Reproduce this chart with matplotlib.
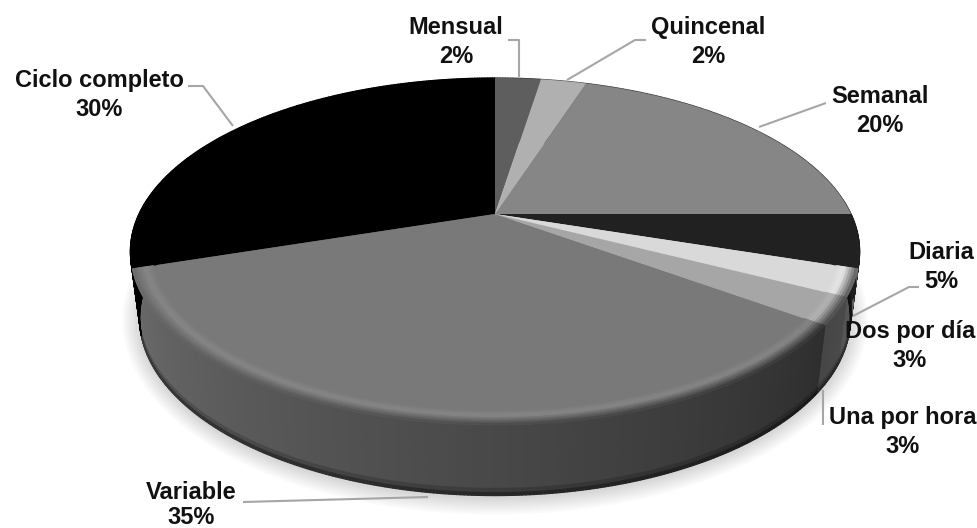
import numpy as np
import matplotlib
matplotlib.use("Agg")
import matplotlib.pyplot as plt
from matplotlib.collections import PolyCollection
from matplotlib.patches import Polygon
from matplotlib.transforms import Transform

plt.rcParams['font.family'] = ['Liberation Sans', 'DejaVu Sans']

categories = ["Mensual", "Quincenal", "Semanal", "Diaria", "Dos por día", "Una por hora", "Variable", "Ciclo completo"]
values = [2.5, 2.5, 20, 5, 2.5, 2.5, 35, 30]
pct_labels = ["2%", "2%", "20%", "5%", "3%", "3%", "35%", "30%"]

top_colors = ["#5e5e5e", "#b0b0b0", "#868686", "#212121", "#d9d9d9", "#a6a6a6", "#797979", "#000000"]
# side colour at the start and the end of each slice (clockwise)
side_start = [60, 90, 70, 26, 92, 74, 46, 0]
side_end = [60, 90, 70, 30, 84, 70, 107, 0]
bevelled = [False, False, False, False, True, True, True, False]

label_pos = [(456, 42), (708, 42), (880, 111), (941, 267), (910, 346), (903, 432), (191, 505), (99, 95)]
label_spacing = [1.34, 1.34, 1.34, 1.34, 1.34, 1.34, 1.15, 1.34]
leaders = [
    [(508, 40), (519, 40), (519, 77)],
    [(646, 40), (635, 40), (567, 80)],
    [(826, 103), (759, 127)],
    [(919, 287), (909, 287), (853, 316)],
    [],
    [(823, 390), (823, 425)],
    [(243, 502), (428, 497)],
    [(188, 86), (203, 86), (233, 126)],
]

K = 0.216


def project(u, v, x0=495, y0=214, rx=356, ry=165.4):
    w = 1 + K * v
    return x0 + rx * u / w, y0 - ry * v / w


def project_low(u, v):
    return project(u, v, 495, 280, 347, 169)


class Persp(Transform):
    input_dims = 2
    output_dims = 2
    is_affine = False

    def transform_non_affine(self, values):
        values = np.asarray(values)
        x, y = project(values[:, 0], values[:, 1])
        return np.column_stack([x, y])


def rim(t, r=1.0, fn=project):
    a = np.radians(t)
    return fn(r * np.sin(a), r * np.cos(a))


def grey(g):
    g = np.clip(g / 255, 0, 1)
    return (g, g, g)


fig = plt.figure(figsize=(9.78, 5.28), dpi=100)
ax = fig.add_axes([0, 0, 1, 1])

wedges, _ = ax.pie(values, colors=top_colors, startangle=90, counterclock=False, radius=1)
persp = Persp() + ax.transData
for w in wedges:
    w.set_transform(persp)
    w.set_zorder(5)
    w.set_linewidth(0)

ax.set_aspect('auto')
ax.set_xlim(0, 978)
ax.set_ylim(528, 0)
ax.axis('off')

# soft shadow under the pie
tt = np.linspace(0, 2 * np.pi, 200)
for i in range(1, 9):
    grow = i * 2.2
    ax.add_patch(Polygon(np.column_stack([495 + (355 + grow) * np.cos(tt), 320 + (177 + grow) * np.sin(tt)]),
                         closed=True, fc="k", ec="none", alpha=0.018, zorder=1))

edges = np.concatenate([[0], np.cumsum(values)]) * 3.6

# side wall
quads = []
cols = []
rows = np.array([0, 0.45, 0.9, 0.96, 1.0])
for k in range(len(rows) - 1):
    f0, f1 = rows[k], rows[k + 1]
    shade = 1.0 if f1 <= 0.9 else (0.82 if f1 <= 0.96 else 0.55)
    for i in range(len(values)):
        ts = np.arange(edges[i], edges[i + 1] + 0.5, 0.5)
        for j in range(len(ts) - 1):
            frac = (j + 0.5) / (len(ts) - 1)
            base = side_start[i] + (side_end[i] - side_start[i]) * frac
            xa, ya = rim(ts[j])
            xb, yb = rim(ts[j + 1])
            xc, yc = rim(ts[j + 1], fn=project_low)
            xd, yd = rim(ts[j], fn=project_low)
            quads.append([(xa + (xd - xa) * f0, ya + (yd - ya) * f0),
                          (xb + (xc - xb) * f0, yb + (yc - yb) * f0),
                          (xb + (xc - xb) * f1, yb + (yc - yb) * f1),
                          (xa + (xd - xa) * f1, ya + (yd - ya) * f1)])
            cols.append(grey(base * shade))
pc = PolyCollection(quads, facecolors=cols, edgecolors=cols, linewidths=0.9, zorder=3)
ax.add_collection(pc)

# rounded edge of the front slices
quads = []
cols = []
radii = np.linspace(0.945, 1.0, 9)
for k in range(len(radii) - 1):
    r0, r1 = radii[k], radii[k + 1]
    p = (k + 0.5) / (len(radii) - 1)
    for i in range(len(values)):
        if not bevelled[i]:
            continue
        top_g = matplotlib.colors.to_rgb(top_colors[i])[0] * 255
        ts = np.arange(edges[i], edges[i + 1] + 0.5, 0.5)
        for j in range(len(ts) - 1):
            frac = (j + 0.5) / (len(ts) - 1)
            base = side_start[i] + (side_end[i] - side_start[i]) * frac
            if p < 0.4:
                g = top_g + 14 * (p / 0.4)
            else:
                g = top_g + 14 + (base - top_g - 14) * ((p - 0.4) / 0.6)
            quads.append([rim(ts[j], r0), rim(ts[j + 1], r0), rim(ts[j + 1], r1), rim(ts[j], r1)])
            cols.append(grey(g))
pc = PolyCollection(quads, facecolors=cols, edgecolors=cols, linewidths=0.6, zorder=6)
ax.add_collection(pc)

for pts in leaders:
    if pts:
        xs, ys = zip(*pts)
        ax.plot(xs, ys, color="#a6a6a6", lw=1.5, solid_capstyle='butt', zorder=7)

for name, pct, (x, y), sp in zip(categories, pct_labels, label_pos, label_spacing):
    ax.text(x, y, name + "\n" + pct, ha='center', va='center', fontsize=17, fontweight='bold',
            color="#111111", linespacing=sp, zorder=8)

fig.savefig("out.png", dpi=100)
